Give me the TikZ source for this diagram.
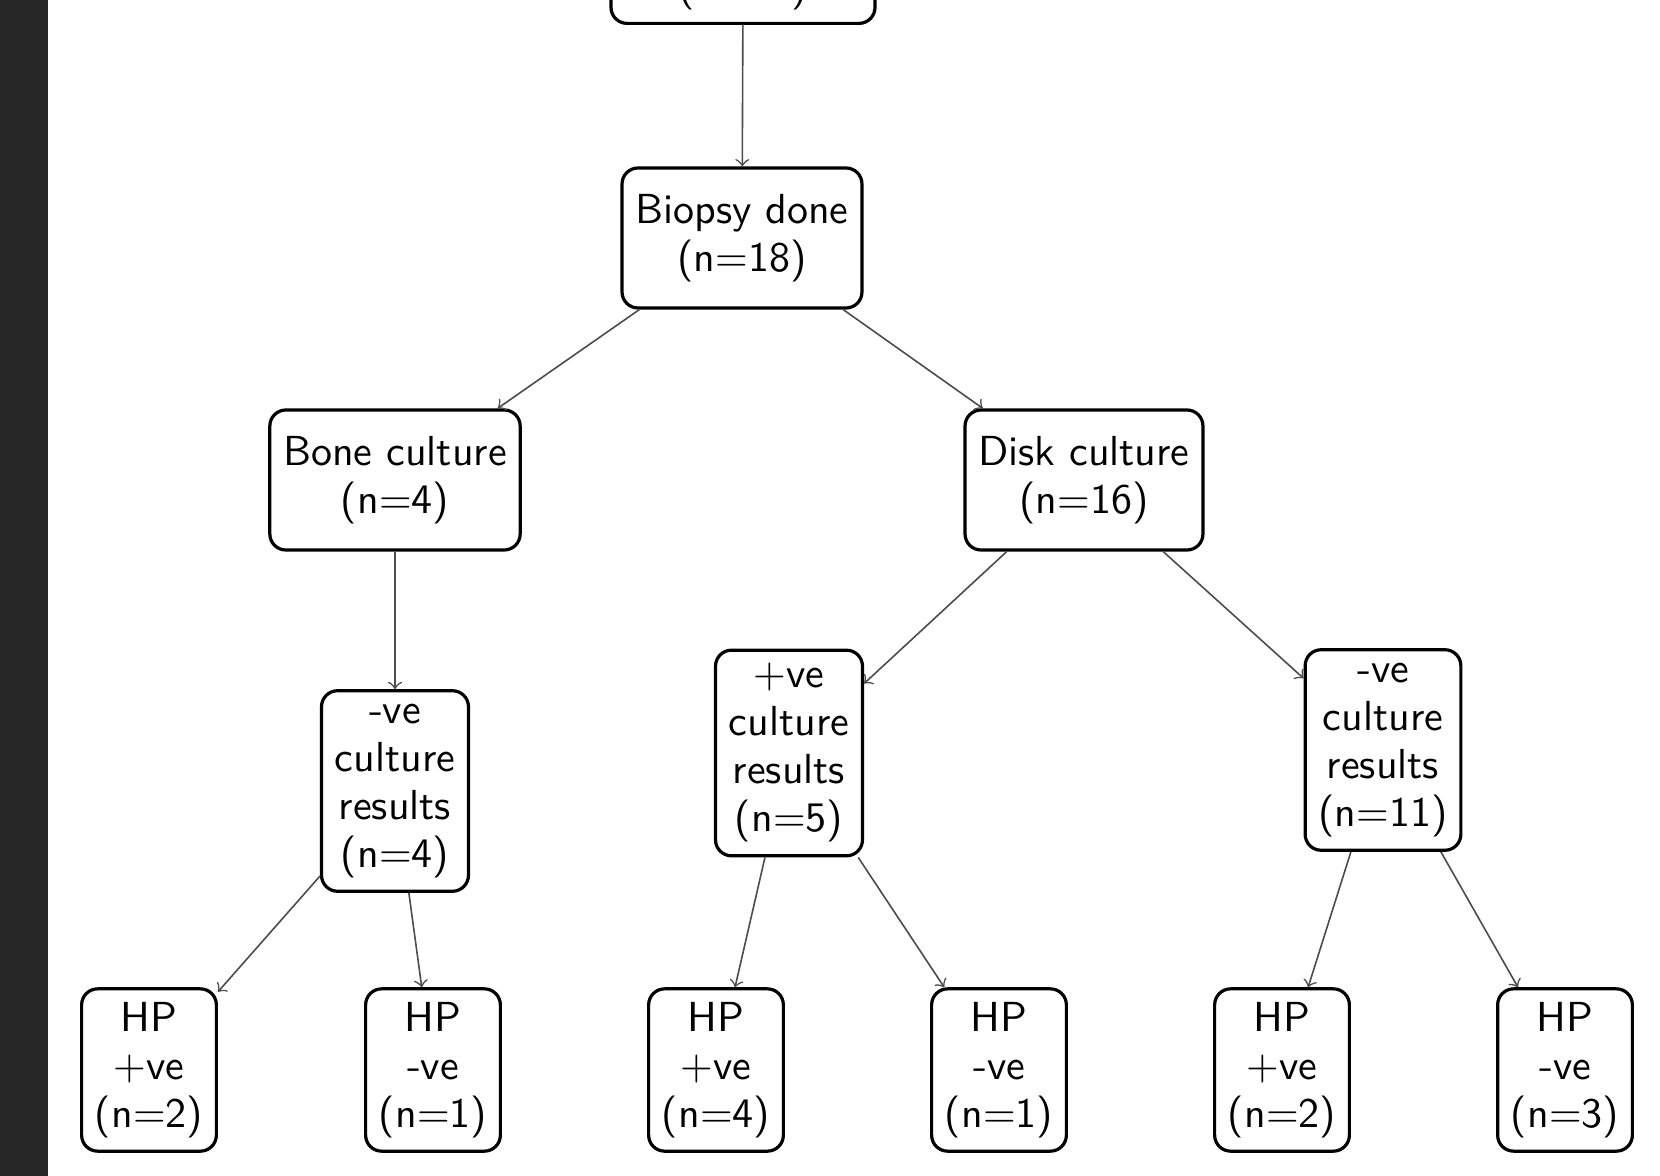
\documentclass[tikz,border=0pt]{standalone}
\usepackage{tikz}
\begin{document}
\begin{tikzpicture}[x=0.25pt,y=-0.25pt,
  box/.style={draw,thick,rounded corners,align=center,font=\sffamily\fontsize{10.5}{12}\selectfont},
  tallbox/.style={box,minimum height=35pt},
  link/.style={->,black!70}]
\useasboundingbox (0,0) rectangle (1660,1176);
\fill[black!85] (0,0) rectangle (48,1176); % dark strip on the left

% edit here for the boxes
\node[box,anchor=south,minimum width=66pt] (total) at (743,25) {(n=18)};
\node[tallbox] (biopsy) at (742,238) {Biopsy done\\(n=18)};
\node[tallbox] (bone) at (395,480) {Bone culture\\(n=4)};
\node[tallbox] (disk) at (1084,480) {Disk culture\\(n=16)};
\node[box] (boneneg) at (395,791) {-ve\\culture\\results\\(n=4)};
\node[box] (diskpos) at (789,753) {+ve\\culture\\results\\(n=5)};
\node[box] (diskneg) at (1383,750) {-ve\\culture\\results\\(n=11)};

\foreach \i/\x/\s/\n in {1/149/+/2,2/433/-/1,3/716/+/4,4/999/-/1,5/1282/+/2,6/1565/-/3}
\node[box] (hp\i) at (\x,1070) {HP\\\s ve\\(n=\n)};

% edit here for the arrows
\foreach \a/\b in {total/biopsy,biopsy/bone,biopsy/disk,bone/boneneg,disk/diskpos,disk/diskneg,
  boneneg/hp1,boneneg/hp2,diskpos/hp3,diskpos/hp4,diskneg/hp5,diskneg/hp6}
\draw[link] (\a) -- (\b);
\end{tikzpicture}
\end{document}
